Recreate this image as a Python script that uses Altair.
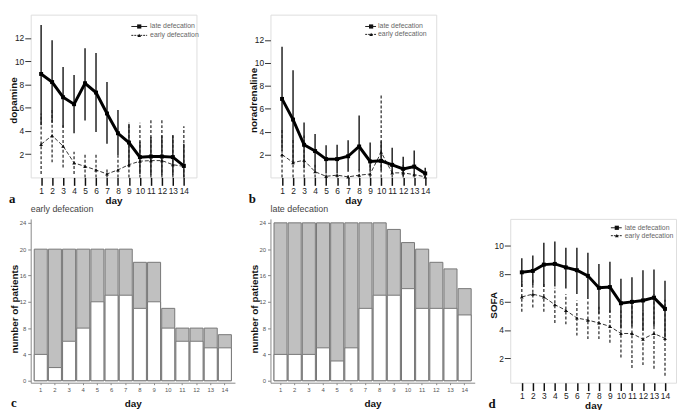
import altair as alt
import pandas as pd

days = list(range(1, 15))

# dopamine
dopa_late_mean = [8.9, 8.2, 6.9, 6.3, 8.1, 7.3, 5.5, 3.8, 3.0, 1.75, 1.8, 1.8, 1.75, 1.0]
dopa_late_lo = [4.5, 4.7, 4.3, 3.8, 4.9, 3.9, 2.9, 1.9, 0.9, 0.3, 0.2, 0.2, 0.2, 0.0]
dopa_late_hi = [13.1, 11.8, 9.5, 8.8, 11.1, 10.7, 8.2, 5.8, 4.6, 3.1, 3.5, 3.6, 3.6, 2.9]
dopa_early_mean = [2.85, 3.6, 2.7, 1.25, 0.95, 0.65, 0.3, 0.65, 1.1, 1.4, 1.45, 1.45, 1.1, 0.95]
dopa_early_lo = [0.3, 1.3, 0.85, 0.3, 0.0, 0.0, 0.0, 0.0, 0.0, 0.0, 0.0, 0.0, 0.0, 0.0]
dopa_early_hi = [5.5, 5.9, 4.6, 2.2, 1.95, 2.05, 0.85, 1.9, 4.7, 4.7, 5.0, 5.0, 3.7, 4.4]

# noradrenaline
nor_late_mean = [6.85, 5.05, 2.85, 2.3, 1.6, 1.6, 1.85, 2.7, 1.4, 1.45, 1.1, 0.75, 0.95, 0.35]
nor_late_lo = [2.3, 1.15, 0.8, 0.6, 0.35, 0.35, 0.5, 0.6, 0.6, 0.6, 0.35, 0.1, 0.2, 0.0]
nor_late_hi = [11.4, 9.35, 4.8, 3.8, 2.8, 2.85, 3.25, 5.4, 3.05, 3.15, 2.6, 1.8, 2.35, 0.85]
nor_early_mean = [2.0, 1.3, 1.5, 0.5, 0.1, 0.2, 0.05, 0.2, 0.3, 2.2, 0.4, 0.4, 0.25, 0.05]
nor_early_lo = [0.0, 0.0, 0.0, 0.0, 0.0, 0.0, 0.0, 0.0, 0.0, 0.0, 0.0, 0.0, 0.0, 0.0]
nor_early_hi = [4.2, 3.4, 3.65, 1.15, 0.3, 0.4, 0.2, 0.7, 1.15, 7.3, 0.9, 1.3, 0.5, 0.2]

# SOFA
sofa_late_mean = [8.1, 8.2, 8.65, 8.7, 8.45, 8.25, 7.85, 7.0, 7.05, 5.9, 6.0, 6.1, 6.3, 5.5]
sofa_late_lo = [7.05, 7.2, 7.05, 7.1, 6.95, 6.55, 6.2, 5.15, 5.25, 4.1, 4.25, 3.95, 4.25, 3.5]
sofa_late_hi = [9.1, 9.3, 10.2, 10.3, 9.85, 9.85, 9.5, 8.7, 8.85, 7.65, 7.75, 8.25, 8.3, 7.5]
sofa_early_mean = [6.35, 6.55, 6.35, 5.8, 5.4, 4.85, 4.7, 4.5, 4.25, 3.75, 3.75, 3.35, 3.75, 3.4]
sofa_early_lo = [5.3, 5.6, 5.3, 4.5, 4.4, 3.6, 3.35, 3.35, 3.1, 2.05, 1.3, 1.5, 1.25, 0.75]
sofa_early_hi = [7.45, 7.7, 7.4, 7.0, 6.55, 6.1, 6.1, 5.65, 5.4, 5.4, 6.2, 5.4, 6.55, 6.15]

# number of patients
early_total = [20, 20, 20, 20, 20, 20, 20, 18, 18, 11, 8, 8, 8, 7]
early_white = [4, 2, 6, 8, 12, 13, 13, 11, 12, 8, 6, 6, 5, 5]
late_total = [24, 24, 24, 24, 24, 24, 24, 24, 23, 21, 20, 18, 17, 14]
late_white = [4, 4, 4, 5, 3, 5, 11, 13, 13, 14, 11, 11, 11, 10]

FONT = "Liberation Sans"
SERIF = "Liberation Serif"


def letter_layer(letter, x, y):
    d = pd.DataFrame({"t": [letter]})
    return alt.Chart(d).mark_text(
        align="left", baseline="alphabetic", font=SERIF, fontSize=13,
        fontWeight="bold", color="#111"
    ).encode(x=alt.value(x), y=alt.value(y), text="t:N")


def legend_layers(seg_l, seg_r, mk, tx, y1, y2):
    layers = []
    for label, dashed, shape, yy in [
        ("late defecation", False, "square", y1),
        ("early defecation", True, "triangle-up", y2),
    ]:
        d = pd.DataFrame({"label": [label]})
        rkw = dict(color="#222", strokeWidth=1)
        if dashed:
            rkw["strokeDash"] = [2, 1]
        layers.append(alt.Chart(d).mark_rule(**rkw).encode(
            x=alt.value(seg_l), x2=alt.value(seg_r), y=alt.value(yy)))
        layers.append(alt.Chart(d).mark_point(
            shape=shape, filled=True, size=14 if dashed else 18, color="#111", opacity=1
        ).encode(x=alt.value(mk), y=alt.value(yy)))
        layers.append(alt.Chart(d).mark_text(
            align="left", baseline="middle", font=FONT, fontSize=7, color="#666"
        ).encode(x=alt.value(tx), y=alt.value(yy), text="label:N"))
    return layers


def line_panel(w, h, lm, llo, lhi, em, elo, ehi, ytitle, ydomain, yvals,
               xdomain, letter, leg):
    late = pd.DataFrame({"day": days, "mean": lm, "lo": llo, "hi": lhi})
    early = pd.DataFrame({"day": days, "mean": em, "lo": elo, "hi": ehi})
    xaxis = alt.Axis(values=days, tickSize=8, tickWidth=1.5, tickColor="#111",
                     labelFontSize=8.5, labelColor="#222", labelPadding=1,
                     domain=False, grid=False, title="day",
                     titleFontSize=10, titleFontWeight="bold", titleColor="#111",
                     titleX=w / 2, titleY=26, titleBaseline="alphabetic",
                     labelFlush=False, labelOverlap=False)
    yaxis = alt.Axis(values=yvals, tickSize=6, tickColor="#333",
                     labelFontSize=8.5, labelColor="#222", labelPadding=1,
                     domain=False, grid=False, title=ytitle,
                     titleFontSize=10, titleFontWeight="bold", titleColor="#111",
                     titleX=-17, titleY=h / 2 + 4, titleBaseline="middle",
                     titleAngle=270, labelOverlap=False, labelFlush=False)
    xscale = alt.Scale(domain=xdomain, nice=False, zero=False)
    yscale = alt.Scale(domain=ydomain, nice=False, zero=False)

    def X():
        return alt.X("day:Q", scale=xscale, axis=xaxis)

    def Y(field):
        return alt.Y(field + ":Q", scale=yscale, axis=yaxis)

    e_err = alt.Chart(early).mark_rule(color="#333", strokeWidth=1.3, strokeDash=[3, 2]).encode(
        x=X(), y=Y("lo"), y2="hi:Q")
    l_err = alt.Chart(late).mark_rule(color="#222", strokeWidth=1.5).encode(
        x=X(), y=Y("lo"), y2="hi:Q")
    e_line = alt.Chart(early).mark_line(color="#333", strokeWidth=1, strokeDash=[4, 2]).encode(
        x=X(), y=Y("mean"))
    e_pts = alt.Chart(early).mark_point(shape="triangle-up", filled=True, size=14,
                                        color="#111", opacity=1).encode(x=X(), y=Y("mean"))
    l_line = alt.Chart(late).mark_line(color="#000", strokeWidth=3).encode(x=X(), y=Y("mean"))
    l_pts = alt.Chart(late).mark_square(size=16, color="#000", opacity=1).encode(
        x=X(), y=Y("mean"))
    layers = [e_line, e_err, l_err, e_pts, l_line, l_pts]
    layers += legend_layers(*leg)
    layers.append(letter_layer(letter, -22, h + 26))
    return alt.layer(*layers).properties(width=w, height=h)


def bar_panel(w, h, total, white, title, letter):
    gdf = pd.DataFrame({"day": days, "count": total})
    wdf = pd.DataFrame({"day": days, "count": white})
    xenc = alt.X("day:O", scale=alt.Scale(paddingInner=0.08, paddingOuter=0.25),
                 axis=alt.Axis(labelAngle=0, labelFontSize=6, labelColor="#555",
                               tickSize=2, tickColor="#888", domainColor="#888",
                               labelPadding=2, title="day", titleFontSize=10,
                               titleFontWeight="bold", titleColor="#111",
                               titleX=w / 2, titleY=24, titleBaseline="alphabetic"))
    yenc = alt.Y("count:Q", scale=alt.Scale(domain=[-0.3, 24.6], nice=False, zero=False),
                 axis=alt.Axis(values=[0, 4, 8, 12, 16, 20, 24], labelFontSize=6,
                               labelColor="#555", tickSize=3, tickColor="#888",
                               domainColor="#888", grid=False, labelPadding=2,
                               title="number of patients", titleFontSize=10,
                               titleFontWeight="bold", titleColor="#111",
                               titleX=-16, titleY=h / 2 + 8, titleBaseline="middle",
                               titleAngle=270, labelOverlap=False))
    gray = alt.Chart(gdf).mark_bar(color="#c0c0c0", stroke="#777", strokeWidth=1).encode(
        x=xenc, y=yenc)
    wht = alt.Chart(wdf).mark_bar(color="#ffffff", stroke="#777", strokeWidth=1).encode(
        x=xenc, y=yenc)
    layers = [gray, wht]
    if letter:
        layers.append(letter_layer(letter, -20, h + 25))
    return alt.layer(*layers).properties(
        width=w, height=h,
        title=alt.TitleParams(title, anchor="start", frame="group", fontSize=9,
                              fontWeight="normal", color="#444", font=FONT, offset=5),
        view=alt.ViewBackground(stroke="transparent"))


TW, TH = 168, 165
a = line_panel(TW, TH, dopa_late_mean, dopa_late_lo, dopa_late_hi,
               dopa_early_mean, dopa_early_lo, dopa_early_hi,
               "dopamine", [0, 14], [2, 4, 6, 8, 10, 12], [0.05, 15.15], "a",
               (TW - 66, TW - 50, TW - 58, TW - 47, 12, 21))
b = line_panel(TW, TH, nor_late_mean, nor_late_lo, nor_late_hi,
               nor_early_mean, nor_early_lo, nor_early_hi,
               "noradrenaline", [0, 14.2], [2, 4, 6, 8, 10, 12], [-0.05, 15.0], "b",
               (TW - 72, TW - 61, TW - 66, TW - 59, 12, 20))

blank = alt.Chart(pd.DataFrame({"v": [0]})).mark_point(opacity=0).encode(
    x=alt.value(0), y=alt.value(0)
).properties(width=1, height=1, view=alt.ViewBackground(stroke="transparent"))

BW, BH = 207, 166
c = bar_panel(BW, BH, early_total, early_white, "early defecation", "c")
lt = bar_panel(BW, BH, late_total, late_white, "late defecation", None)
d = line_panel(168, BH, sofa_late_mean, sofa_late_lo, sofa_late_hi,
               sofa_early_mean, sofa_early_lo, sofa_early_hi,
               "SOFA", [0.25, 11.9], [2, 4, 6, 8, 10], [-0.05, 15.0], "d",
               (168 - 66, 168 - 55, 168 - 60, 168 - 52, 9, 17))

chart = alt.concat(
    a, b, blank, c, lt, d, columns=3, bounds="flush",
    spacing=alt.RowColnumber(row=42, column=36)
).resolve_scale(
    x="independent", y="independent"
).configure_view(stroke="#999", strokeWidth=1).configure_axis(
    labelFont=FONT, titleFont=FONT
).configure(background="white", padding=0)

chart.save("out.html", embed_options={"renderer": "svg", "actions": False})
